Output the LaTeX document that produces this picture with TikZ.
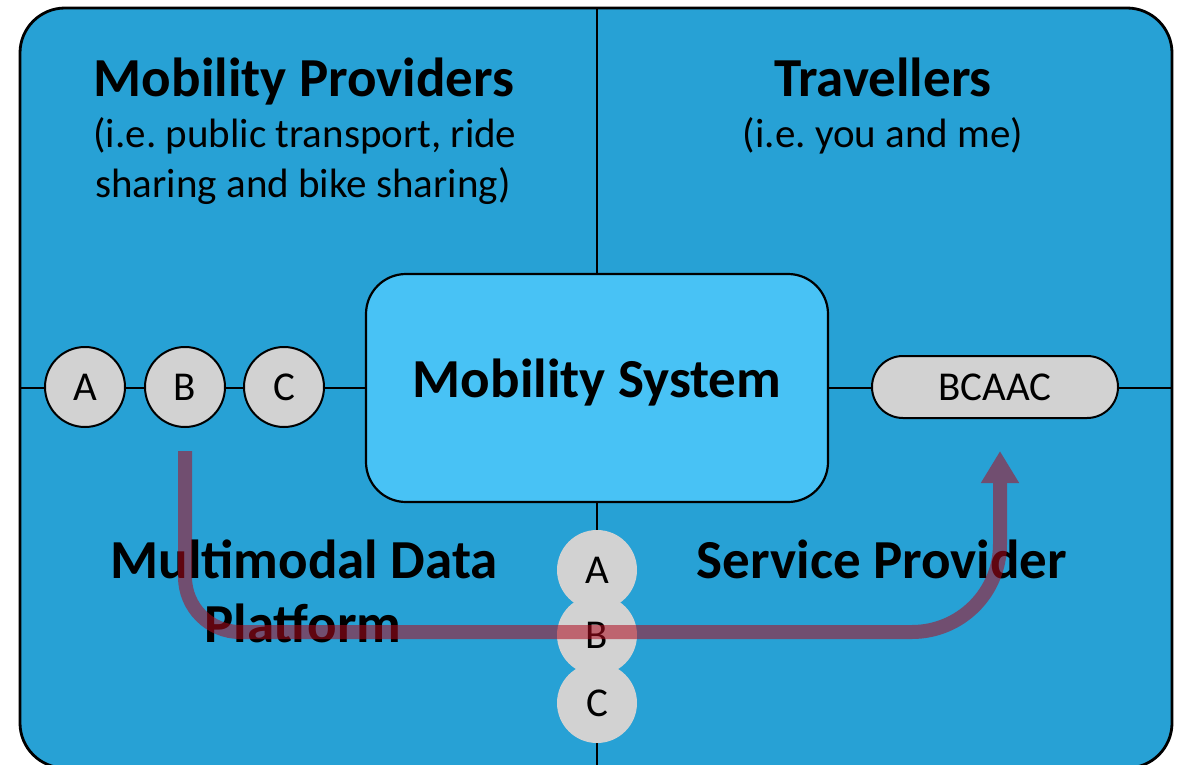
\documentclass[tikz,border=0pt]{standalone}
\usepackage{fontspec}
\setmainfont{Carlito}
\usetikzlibrary{arrows.meta}
\definecolor{outerblue}{RGB}{39,161,213}
\definecolor{innerblue}{RGB}{72,194,245}
\definecolor{circgray}{RGB}{210,210,210}
\definecolor{arrowred}{RGB}{175,10,30}
\frenchspacing
\tikzset{
  ttl/.style={anchor=base,font=\bfseries\fontsize{55}{60}\selectfont,inner sep=0pt},
  sub/.style={anchor=base,font=\fontsize{41}{50}\selectfont,inner sep=0pt},
  tok/.style={circle,draw=black,line width=2pt,fill=circgray,minimum size=80pt,inner sep=0pt,font=\fontsize{41}{46}\selectfont},
  tokb/.style={circle,fill=circgray,minimum size=80pt,inner sep=0pt,font=\fontsize{41}{46}\selectfont},
  divider/.style={line width=2.4pt,black}
}
\begin{document}
\begin{tikzpicture}[x=1pt,y=-1pt]
\useasboundingbox (0,0) rectangle (1183,765);
\begin{scope}
\clip (0,0) rectangle (1183,765);
\draw[fill=outerblue,line width=2.8pt,rounded corners=45pt] (20,8) rectangle (1172,768);
\coordinate (vtop) at (597,8);
\coordinate (vbot) at (597,768);
\coordinate (hl) at (20,388);
\coordinate (hr) at (1172,388);
\draw[divider] (vtop) -- (vbot);
\draw[divider] (hl) -- (hr);
\end{scope}

\node[draw=black,line width=2.2pt,fill=innerblue,rounded corners=40pt,minimum width=462pt,minimum height=228pt] (sys) at (597,388) {};
\node[ttl] (systxt) at (597,397) {Mobility System};

\node[tok] (A) at (85,387) {A};
\node[tok] (B) at (185,387) {B};
\node[tok] (C) at (284,387) {C};

\node[draw=black,line width=2pt,fill=circgray,rounded corners=31pt,minimum width=246pt,minimum height=62pt,inner sep=0pt,font=\fontsize{41}{46}\selectfont] (bcaac) at (995,387) {BCAAC};

\node[tokb] (A2) at (597,570) {A};
\node[tokb] (B2) at (597,635) {B};
\node[tokb] (C2) at (597,703) {C};

\node[ttl] (mp) at (304,97) {Mobility Providers};
\node[sub] (mp1) at (305,147) {(i.e. public transport, ride};
\node[sub] (mp2) at (303,197) {sharing and bike sharing)};
\node[ttl] (tr) at (883,97) {Travellers};
\node[sub] (tr1) at (883,147) {(i.e. you and me)};
\node[ttl] (md1) at (304,578) {Multimodal Data};
\node[ttl] (md2) at (303,642) {Platform};
\node[ttl] (sp) at (882,578) {Service Provider};

\coordinate (s) at ([yshift=-23pt]B.south);
\coordinate (e) at ([xshift=5pt,yshift=-32pt]bcaac.south);
\begin{scope}[transparency group,opacity=0.55]
\draw[arrowred,line width=14pt,-{Triangle[width=36pt,length=32pt]}]
  (s) -- (185,577) .. controls (185,607.4) and (209.6,632) .. (240,632)
  -- (912,632) .. controls (960.6,632) and (1000,592.6) .. (1000,544) -- (e);
\end{scope}
\end{tikzpicture}
\end{document}
